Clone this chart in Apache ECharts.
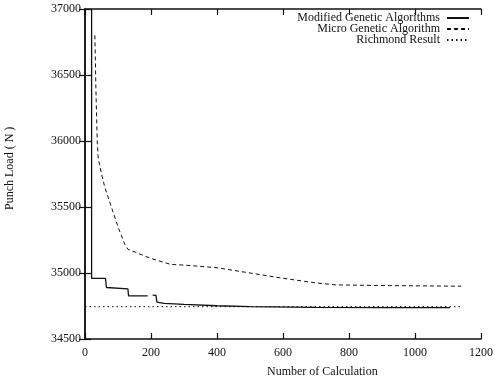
<!DOCTYPE html>
<html>
<head>
<meta charset="utf-8">
<script src="https://cdn.jsdelivr.net/npm/echarts@6/dist/echarts.min.js"></script>
<style>
    html, body { margin: 0; padding: 0; background: #fff; }
    #chart { width: 496px; height: 384px; }
</style>
</head>
<body>
<div id="chart"></div>
<script>
// values
const xTicks = [0, 200, 400, 600, 800, 1000, 1200];
const yTicks = [34500, 35000, 35500, 36000, 36500, 37000];

// Modified Genetic Algorithms (solid), null = gap in the print
const mgaCalc = [20, 20, 62, 65, 130, 132, 190, 195, 205, 215, 218, 240, 300, 400, 500, 700, 900, 1106];
const mgaLoad = [37000, 34960, 34960, 34890, 34880, 34826, 34826, null, 34832, 34830, 34780, 34770, 34762, 34752, 34745, 34740, 34738, 34738];

// Micro Genetic Algorithm (dashed)
const microCalc = [30, 33, 37, 40, 50, 60, 80, 100, 120, 130, 160, 200, 260, 300, 400, 500, 600, 700, 760, 900, 1140];
const microLoad = [36800, 36400, 36000, 35870, 35750, 35650, 35500, 35350, 35220, 35180, 35150, 35110, 35065, 35060, 35040, 35000, 34960, 34925, 34910, 34905, 34900];

// Richmond Result (dotted)
const richCalc = [0, 1137];
const richLoad = [34745, 34745];

const names = ['Modified Genetic Algorithms', 'Micro Genetic Algorithm', 'Richmond Result'];

const pairs = (xs, ys) => xs.map((x, i) => [x, ys[i] === null ? '-' : ys[i]]);

const font = 'Liberation Serif, Times New Roman, serif';
const ink = '#111';

const axisCommon = {
    type: 'value',
    axisLine: { show: true, lineStyle: { color: ink, width: 1.5 } },
    axisTick: { show: true, inside: true, length: 6, lineStyle: { color: ink, width: 1.2 } },
    splitLine: { show: false }
};

const chart = echarts.init(document.getElementById('chart'));

const lineSeries = (name, data, type, width) => ({
    name: name,
    type: 'line',
    data: data,
    symbol: 'none',
    connectNulls: false,
    animation: false,
    lineStyle: { color: ink, width: width, type: type },
    itemStyle: { color: ink }
});

const legendAt = (name, top) => ({
    data: [name],
    right: 26,
    top: top,
    orient: 'vertical',
    align: 'right',
    itemWidth: 22,
    itemHeight: 8,
    itemGap: 0,
    padding: 0,
    itemStyle: { opacity: 0 },
    textStyle: { fontFamily: font, fontSize: 12, color: ink, padding: [0, 2, 0, 0] }
});

const options = {
    backgroundColor: '#fff',
    animation: false,
    grid: { left: 85, right: 13, top: 9, bottom: 45 },
    legend: [
        legendAt(names[0], 12),
        legendAt(names[1], 23),
        legendAt(names[2], 34)
    ],
    xAxis: [
        Object.assign({}, axisCommon, {
            min: xTicks[0], max: xTicks[xTicks.length - 1], interval: 200,
            position: 'bottom',
            axisLabel: { fontFamily: font, fontSize: 12, color: ink, margin: 8, formatter: v => String(v) }
        }),
        Object.assign({}, axisCommon, {
            min: xTicks[0], max: xTicks[xTicks.length - 1], interval: 200,
            position: 'top',
            axisLabel: { show: false }
        })
    ],
    yAxis: [
        Object.assign({}, axisCommon, {
            min: yTicks[0], max: yTicks[yTicks.length - 1], interval: 500,
            position: 'left',
            axisLabel: { fontFamily: font, fontSize: 12, color: ink, margin: 4, formatter: v => String(v) }
        }),
        Object.assign({}, axisCommon, {
            min: yTicks[0], max: yTicks[yTicks.length - 1], interval: 500,
            position: 'right',
            axisLabel: { show: false }
        })
    ],
    graphic: [
        {
            type: 'text', left: 267, top: 366,
            style: { text: 'Number of Calculation', font: '12px ' + font, fill: ink }
        },
        {
            type: 'text', x: 4, y: 210, rotation: Math.PI / 2,
            style: { text: 'Punch Load ( N )', font: '12px ' + font, fill: ink }
        }
    ],
    series: [
        lineSeries(names[0], pairs(mgaCalc, mgaLoad), 'solid', 1.3),
        lineSeries(names[1], pairs(microCalc, microLoad), [4, 3], 1),
        lineSeries(names[2], pairs(richCalc, richLoad), [1.5, 3], 1)
    ]
};

chart.setOption(options);
</script>
</body>
</html>
